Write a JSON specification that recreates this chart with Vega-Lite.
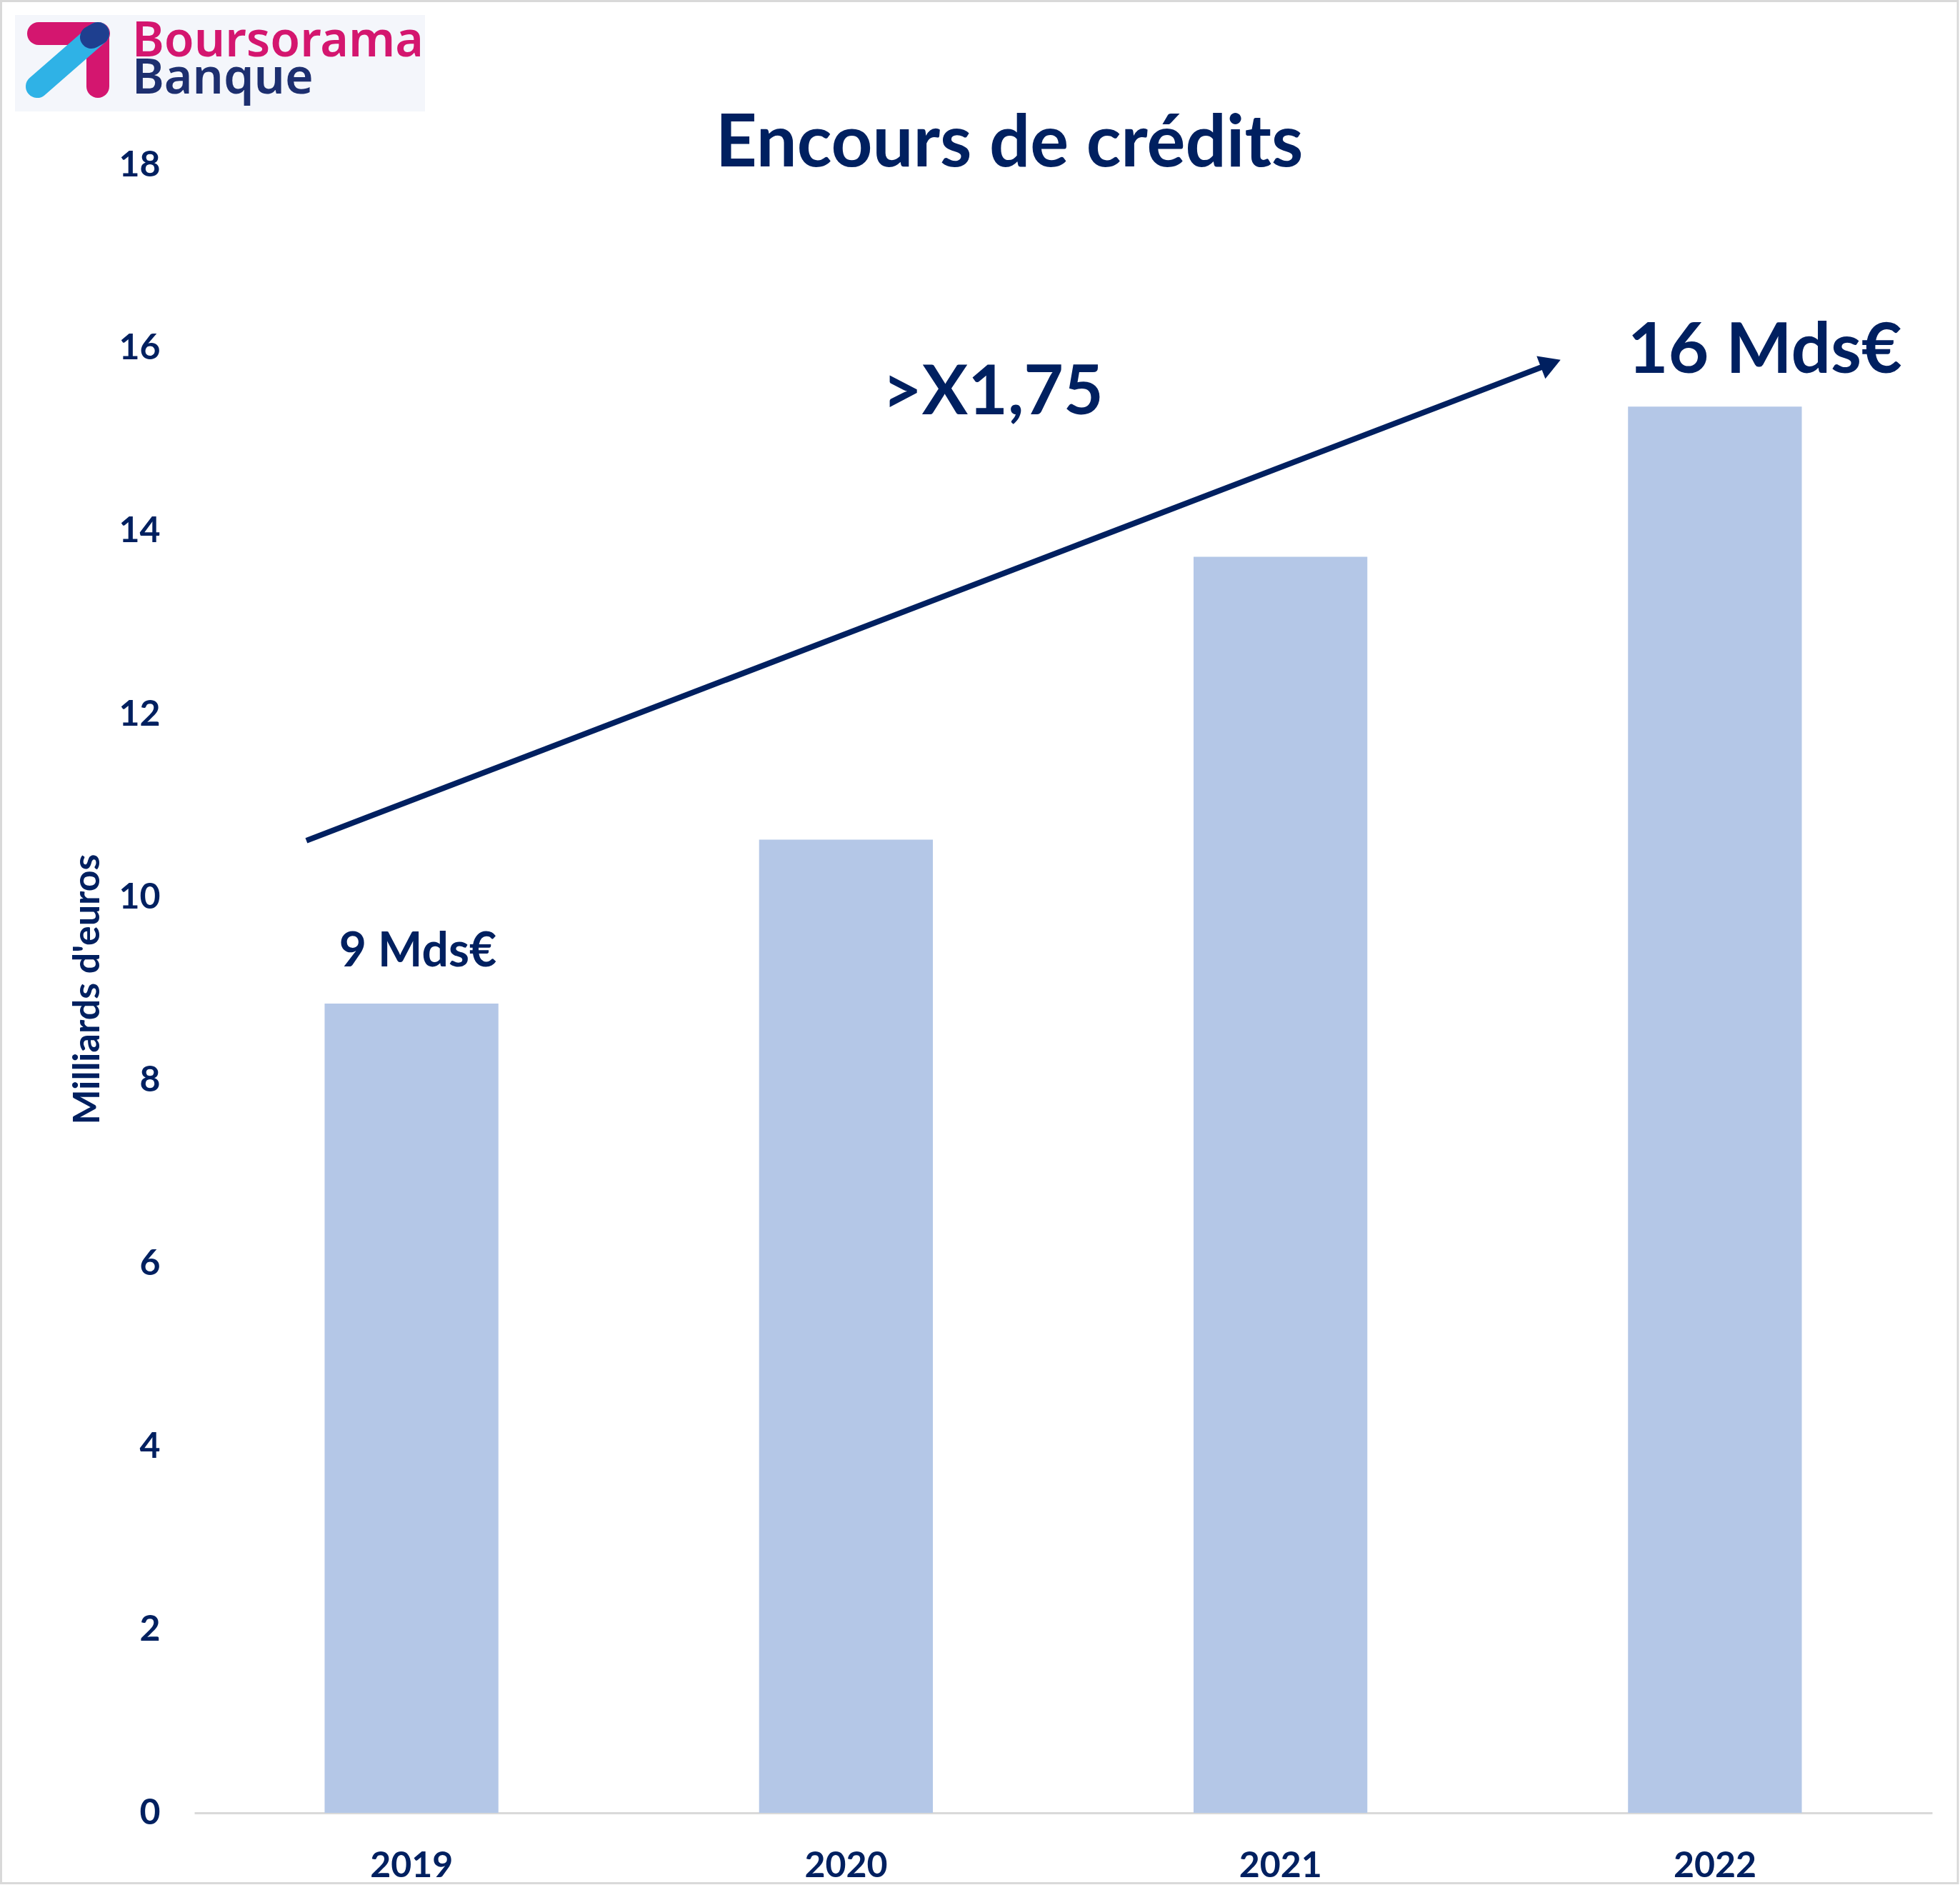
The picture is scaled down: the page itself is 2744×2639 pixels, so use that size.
{
  "$schema": "https://vega.github.io/schema/vega-lite/v6.json",
  "width": 2433,
  "height": 2307,
  "autosize": {"type": "none"},
  "padding": {"left": 272, "top": 231, "right": 39, "bottom": 101},
  "background": "white",
  "config": {"view": {"stroke": null}, "font": "Lato"},
  "datasets": {
    "bars": [
      {"year": "2019", "value": 8.84},
      {"year": "2020", "value": 10.63},
      {"year": "2021", "value": 13.72},
      {"year": "2022", "value": 15.36}
    ],
    "border": [{"pos": -0.4447, "pos2": 4.0592, "val": 19.79, "val2": -0.7685}],
    "logobg": [{"pos": -0.41266, "pos2": 0.53103, "val": 19.638, "val2": 18.585}],
    "pink": [
      {"pos": -0.35841, "pos2": -0.22031, "val": 19.4352, "val2": 19.4352},
      {"pos": -0.22195, "pos2": -0.22195, "val": 19.4352, "val2": 18.8578}
    ],
    "blue": [{"pos": -0.3617, "pos2": -0.22195, "val": 18.8578, "val2": 19.4352}],
    "navy": [{"pos": -0.2367, "pos2": -0.22195, "val": 19.3961, "val2": 19.4352}],
    "brand1": [{"pos": -0.14303, "val": 19.1855, "label": "Boursorama"}],
    "brand2": [{"pos": -0.14303, "val": 18.7798, "label": "Banque"}],
    "arrow": [{"pos": 0.258, "pos2": 3.1222, "val": 10.62, "val2": 15.83}],
    "head": [{"pos": 3.1222, "val": 15.83}],
    "title": [{"pos": 1.876, "val": 17.984, "label": "Encours de crédits"}],
    "lab9": [{"pos": 0.5146, "val": 9.246, "label": "9 Mds€"}],
    "lab16": [{"pos": 3.615, "val": 15.73, "label": "16 Mds€"}],
    "mult": [{"pos": 1.838, "val": 15.28, "label": ">X1,75"}]
  },
  "layer": [
    {
      "data": {"name": "bars"},
      "mark": {"type": "bar", "color": "#b4c7e7"},
      "encoding": {
        "x": {
          "field": "year", "type": "nominal", "sort": null,
          "scale": {"paddingInner": 0.6, "paddingOuter": 0.3},
          "axis": {
            "title": null, "labelAngle": 0, "ticks": false, "tickSize": 0,
            "labelPadding": 89, "labelBaseline": "alphabetic",
            "labelFontSize": 50, "labelFont": "Lato", "labelFontWeight": "bold",
            "labelColor": "#002060", "domainColor": "#d9d9d9", "domainWidth": 3, "grid": false
          }
        },
        "y": {
          "field": "value", "type": "quantitative",
          "scale": {"domain": [0, 18], "nice": false},
          "axis": {
            "values": [0, 2, 4, 6, 8, 10, 12, 14, 16, 18],
            "domain": false, "ticks": false, "tickSize": 0, "grid": false,
            "labelPadding": 48, "labelFontSize": 50, "labelFont": "Lato", "labelFontWeight": "bold",
            "labelColor": "#002060",
            "title": "Milliards d'euros", "titleFontSize": 52, "titleFont": "Lato",
            "titleFontWeight": "bold", "titleColor": "#002060", "titlePadding": 16
          }
        }
      }
    },
    {
      "layer": [
        {
          "data": {"name": "border"},
          "mark": {"type": "rect", "filled": false, "stroke": "#d9d9d9", "strokeWidth": 3},
          "encoding": {
            "x": {"field": "pos", "type": "quantitative", "scale": {"domain": [0, 4], "nice": false, "zero": false}, "axis": null},
            "x2": {"field": "pos2"},
            "y": {"field": "val", "type": "quantitative", "scale": {"domain": [0, 18], "nice": false}, "axis": null},
            "y2": {"field": "val2"}
          }
        },
        {
          "data": {"name": "logobg"},
          "mark": {"type": "rect", "color": "#f4f6fb"},
          "encoding": {
            "x": {"field": "pos", "type": "quantitative", "scale": {"domain": [0, 4], "nice": false, "zero": false}, "axis": null},
            "x2": {"field": "pos2"},
            "y": {"field": "val", "type": "quantitative", "scale": {"domain": [0, 18], "nice": false}, "axis": null},
            "y2": {"field": "val2"}
          }
        },
        {
          "data": {"name": "pink"},
          "mark": {"type": "rule", "color": "#d4166f", "strokeWidth": 32, "strokeCap": "round"},
          "encoding": {
            "x": {"field": "pos", "type": "quantitative", "scale": {"domain": [0, 4], "nice": false, "zero": false}, "axis": null},
            "x2": {"field": "pos2"},
            "y": {"field": "val", "type": "quantitative", "scale": {"domain": [0, 18], "nice": false}, "axis": null},
            "y2": {"field": "val2"}
          }
        },
        {
          "data": {"name": "blue"},
          "mark": {"type": "rule", "color": "#2fb2e6", "strokeWidth": 32, "strokeCap": "round"},
          "encoding": {
            "x": {"field": "pos", "type": "quantitative", "scale": {"domain": [0, 4], "nice": false, "zero": false}, "axis": null},
            "x2": {"field": "pos2"},
            "y": {"field": "val", "type": "quantitative", "scale": {"domain": [0, 18], "nice": false}, "axis": null},
            "y2": {"field": "val2"}
          }
        },
        {
          "data": {"name": "navy"},
          "mark": {"type": "rule", "color": "#1e3f8f", "strokeWidth": 32, "strokeCap": "round"},
          "encoding": {
            "x": {"field": "pos", "type": "quantitative", "scale": {"domain": [0, 4], "nice": false, "zero": false}, "axis": null},
            "x2": {"field": "pos2"},
            "y": {"field": "val", "type": "quantitative", "scale": {"domain": [0, 18], "nice": false}, "axis": null},
            "y2": {"field": "val2"}
          }
        },
        {
          "data": {"name": "brand1"},
          "mark": {"type": "text", "align": "left", "baseline": "alphabetic", "font": "Noto Sans", "fontWeight": 600, "fontSize": 68, "color": "#d4166f"},
          "encoding": {
            "x": {"field": "pos", "type": "quantitative", "scale": {"domain": [0, 4], "nice": false, "zero": false}, "axis": null},
            "y": {"field": "val", "type": "quantitative", "scale": {"domain": [0, 18], "nice": false}, "axis": null},
            "text": {"field": "label"}
          }
        },
        {
          "data": {"name": "brand2"},
          "mark": {"type": "text", "align": "left", "baseline": "alphabetic", "font": "Noto Sans", "fontWeight": 600, "fontSize": 68, "color": "#1d2f6f"},
          "encoding": {
            "x": {"field": "pos", "type": "quantitative", "scale": {"domain": [0, 4], "nice": false, "zero": false}, "axis": null},
            "y": {"field": "val", "type": "quantitative", "scale": {"domain": [0, 18], "nice": false}, "axis": null},
            "text": {"field": "label"}
          }
        },
        {
          "data": {"name": "arrow"},
          "mark": {"type": "rule", "color": "#002060", "strokeWidth": 8},
          "encoding": {
            "x": {"field": "pos", "type": "quantitative", "scale": {"domain": [0, 4], "nice": false, "zero": false}, "axis": null},
            "x2": {"field": "pos2"},
            "y": {"field": "val", "type": "quantitative", "scale": {"domain": [0, 18], "nice": false}, "axis": null},
            "y2": {"field": "val2"}
          }
        },
        {
          "data": {"name": "head"},
          "mark": {"type": "point", "shape": "triangle-right", "filled": true, "color": "#002060", "opacity": 1, "size": 1150, "angle": 339},
          "encoding": {
            "x": {"field": "pos", "type": "quantitative", "scale": {"domain": [0, 4], "nice": false, "zero": false}, "axis": null},
            "y": {"field": "val", "type": "quantitative", "scale": {"domain": [0, 18], "nice": false}, "axis": null}
          }
        },
        {
          "data": {"name": "title"},
          "mark": {"type": "text", "align": "center", "baseline": "alphabetic", "fontWeight": "bold", "fontSize": 101, "color": "#002060"},
          "encoding": {
            "x": {"field": "pos", "type": "quantitative", "scale": {"domain": [0, 4], "nice": false, "zero": false}, "axis": null},
            "y": {"field": "val", "type": "quantitative", "scale": {"domain": [0, 18], "nice": false}, "axis": null},
            "text": {"field": "label"}
          }
        },
        {
          "data": {"name": "lab9"},
          "mark": {"type": "text", "align": "center", "baseline": "alphabetic", "fontWeight": "bold", "fontSize": 66, "color": "#002060"},
          "encoding": {
            "x": {"field": "pos", "type": "quantitative", "scale": {"domain": [0, 4], "nice": false, "zero": false}, "axis": null},
            "y": {"field": "val", "type": "quantitative", "scale": {"domain": [0, 18], "nice": false}, "axis": null},
            "text": {"field": "label"}
          }
        },
        {
          "data": {"name": "lab16"},
          "mark": {"type": "text", "align": "center", "baseline": "alphabetic", "fontWeight": "bold", "fontSize": 98, "color": "#002060"},
          "encoding": {
            "x": {"field": "pos", "type": "quantitative", "scale": {"domain": [0, 4], "nice": false, "zero": false}, "axis": null},
            "y": {"field": "val", "type": "quantitative", "scale": {"domain": [0, 18], "nice": false}, "axis": null},
            "text": {"field": "label"}
          }
        },
        {
          "data": {"name": "mult"},
          "mark": {"type": "text", "align": "center", "baseline": "alphabetic", "fontWeight": "bold", "fontSize": 96, "color": "#002060"},
          "encoding": {
            "x": {"field": "pos", "type": "quantitative", "scale": {"domain": [0, 4], "nice": false, "zero": false}, "axis": null},
            "y": {"field": "val", "type": "quantitative", "scale": {"domain": [0, 18], "nice": false}, "axis": null},
            "text": {"field": "label"}
          }
        }
      ]
    }
  ],
  "resolve": {"scale": {"x": "independent", "y": "independent"}}
}
